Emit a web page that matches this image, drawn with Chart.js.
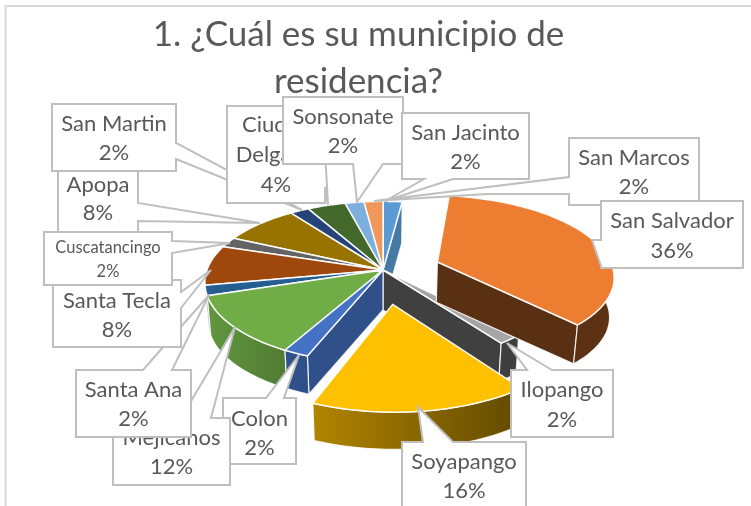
<!DOCTYPE html>
<html><head><meta charset="utf-8">
<style>html,body{margin:0;padding:0;background:#fff}#wrap{width:751px;height:506px;position:relative;overflow:hidden}</style>
<script src="https://cdn.jsdelivr.net/npm/chart.js@4"></script>
</head><body><div id="wrap"><canvas id="c" width="751" height="506"></canvas></div>
<script>
const categories = ['San Jacinto','San Salvador','Ilopango','Soyapango','Colon','Mejicanos','Santa Ana','Santa Tecla','Cuscatancingo','Apopa','San Martin','Ciudad Delgado','Sonsonate','San Marcos'];
const percentages = [2,36,2,16,2,12,2,8,2,8,2,4,2,2];
const sliceColors = ['#5B9BD5','#ED7D31','#A5A5A5','#FFC000','#4472C4','#70AD47','#255E91','#9E480E','#636363','#997300','#264478','#43682B','#7CAFDD','#F1975A'];
const titleLines = ['1. ¿Cuál es su municipio de','residencia?'];
const explodedSlices = {'San Salvador':0.33,'Soyapango':0.41};

// Callout geometry: box [x,y,w,h], pointer polygon (clockwise) attached to one box side, text line centres
const callouts = {
 'Colon':{box:[223,398,73,66],side:'top',wedge:[[266,398],[299,355],[284,398]],ys:[419,448]},
 'Mejicanos':{box:[113,418,117,67],side:'top',wedge:[[181,418],[235,327],[211,418]],ys:[438,467]},
 'Santa Ana':{box:[76,370,115,67],side:'top',wedge:[[143,370],[209,295],[172,370]],ys:[390,419]},
 'Santa Tecla':{box:[53,280,128,67],side:'right',wedge:[[181,292],[211,270],[181,308]],ys:[301,330]},
 'Apopa':{box:[58,165,80,67],side:'right',wedge:[[138,203],[260,223],[138,221]],ys:[185,213],cx:98},
 'Cuscatancingo':{box:[44,232,128,53],side:'right',wedge:[[172,241],[230,243],[172,253]],ys:[248,272],size:16.5},
 'San Martin':{box:[52,104,124,67],side:'right',wedge:[[176,143],[302,210],[176,159]],ys:[124,153]},
 'Ciudad Delgado':{box:[227,106,98,97],side:'right',wedge:[[325,150],[328,205],[325,187]],ys:[125,155,185],lines:['Ciudad','Delgado']},
 'Sonsonate':{box:[283,97,120,67],side:'bottom',wedge:[[383,164],[357,202],[353,164]],ys:[117,146]},
 'San Jacinto':{box:[402,113,127,66],side:'bottom',wedge:[[453,179],[385,201],[424,179]],ys:[133,162]},
 'San Marcos':{box:[569,138,130,67],side:'left',wedge:[[569,194],[487,194],[374,201],[569,177]],ys:[158,187]},
 'San Salvador':{box:[601,201,142,67],side:'left',wedge:[[601,266],[592,240],[601,240]],ys:[221,251]},
 'Ilopango':{box:[511,370,102,67],side:'top',wedge:[[527,370],[507,343],[552,370]],ys:[390,420]},
 'Soyapango':{box:[402,442,124,67],side:'top',wedge:[[423,442],[418,407],[453,442]],ys:[462,491]}
};
const drawOrder = ['Colon','Mejicanos','Santa Ana','Santa Tecla','Apopa','Cuscatancingo','San Martin','Ciudad Delgado','Sonsonate','San Jacinto','San Marcos','San Salvador','Ilopango','Soyapango'];

const TILT=0.45, PERSP=6.5, DEPTH=40, SHRINK=0.98;
const FONT='Lato, Carlito, sans-serif';
const rimShadeTable=[[0,.85],[90,.4],[144,.38],[180,.55],[201,.69],[209,.72],[252,.87],[270,.9],[360,.85]];
function rimShade(deg){deg=((deg%360)+360)%360;for(let i=1;i<rimShadeTable.length;i++){const a=rimShadeTable[i-1],b=rimShadeTable[i];if(deg<=b[0])return a[1]+(b[1]-a[1])*(deg-a[0])/(b[0]-a[0]);}return .8;}
function shade(hex,f){const n=parseInt(hex.slice(1),16);return `rgb(${Math.round((n>>16&255)*f)},${Math.round((n>>8&255)*f)},${Math.round((n&255)*f)})`;}
const faceShade={'Colon':.7,'San Jacinto':.78,'Ilopango':.39,'San Salvador':.38};

const pie3d={id:'pie3d',
 beforeDraw(chart){const c=chart.ctx;c.save();c.fillStyle='#fff';c.fillRect(0,0,751,506);c.strokeStyle='#D9D9D9';c.lineWidth=2;c.beginPath();c.moveTo(751,6);c.lineTo(5.5,6);c.lineTo(5.5,506);c.stroke();c.restore();},
 beforeDatasetDraw(chart,args){
  const c=chart.ctx,meta=args.meta,labels=chart.data.labels;
  const slices=meta.data.map((el,i)=>{
    const a0=el.startAngle+Math.PI/2,a1=el.endAngle+Math.PI/2,m=(a0+a1)/2,e=explodedSlices[labels[i]]||0;
    const R=el.outerRadius,cx=el.x,cy=el.y;
    const P=(th,r)=>{const X=r*Math.sin(th)+e*Math.sin(m),Y=-r*Math.cos(th)-e*Math.cos(m),s=PERSP/(PERSP-Y);return [cx+X*s*R,cy+Y*s*R*TILT];};
    const B=p=>[cx+(p[0]-cx)*SHRINK,cy+(p[1]-cy)*SHRINK+DEPTH];
    return {i,a0,a1,m,e,P,B,color:el.options.backgroundColor,name:labels[i]};
  });
  slices.sort((p,q)=>(p.e?1:0)-(q.e?1:0)||(-Math.cos(p.m))-(-Math.cos(q.m)));
  const poly=pts=>{c.beginPath();pts.forEach((p,k)=>k?c.lineTo(p[0],p[1]):c.moveTo(p[0],p[1]));c.closePath();};
  c.save();c.lineJoin='round';
  for(const s of slices){
    const apex=s.P(s.a0,0),arc=[],N=Math.max(6,Math.ceil((s.a1-s.a0)*40));
    for(let k=0;k<=N;k++)arc.push(s.P(s.a0+(s.a1-s.a0)*k/N,1));
    const f=faceShade[s.name]||.4;
    // radial faces that look at the viewer
    const face=(th,normal)=>{if(-Math.cos(normal)<=0)return;const o=s.P(th,1);poly([apex,o,s.B(o),s.B(apex)]);c.fillStyle=shade(s.color,f);c.fill();c.strokeStyle='rgba(255,255,255,.85)';c.lineWidth=1.2;c.stroke();};
    face(s.a0,s.a0-Math.PI/2);
    face(s.a1,s.a1+Math.PI/2);
    // outer wall, shaded from left to right
    const front=[],frontDeg=[];
    for(let k=0;k<=N;k++){const th=s.a0+(s.a1-s.a0)*k/N;if(-Math.cos(th)>=-0.02){front.push(arc[k]);frontDeg.push(th*180/Math.PI);}}
    if(front.length>1){
      poly(front.concat(front.slice().reverse().map(s.B)));
      const x0=Math.min(...front.map(p=>p[0])),x1=Math.max(...front.map(p=>p[0]))+.01;
      const g=c.createLinearGradient(x0,0,x1,0);
      const d0=frontDeg[0],d1=frontDeg[frontDeg.length-1];
      const leftIsEnd=front[front.length-1][0]<front[0][0];
      g.addColorStop(0,shade(s.color,rimShade(leftIsEnd?d1:d0)));
      g.addColorStop(1,shade(s.color,rimShade(leftIsEnd?d0:d1)));
      c.fillStyle=g;c.fill();c.strokeStyle='rgba(255,255,255,.85)';c.lineWidth=1.2;c.stroke();
    }
    // top face
    poly([apex].concat(arc));c.fillStyle=s.color;c.fill();c.strokeStyle='rgba(255,255,255,.95)';c.lineWidth=1.5;c.stroke();
  }
  c.restore();
  return false;
 },
 afterLayout(chart){const t=chart.titleBlock;if(t){t.left=-17;t.right=734;t.top=11;}},
 afterDatasetsDraw(chart){
  const c=chart.ctx,labels=chart.data.labels,vals=chart.data.datasets[0].data;
  c.save();
  for(const name of drawOrder){
    const k=callouts[name];const [x,y,w,h]=k.box;
    const seq=[[x,y]];
    if(k.side==='top')seq.push(...k.wedge);seq.push([x+w,y]);
    if(k.side==='right')seq.push(...k.wedge);seq.push([x+w,y+h]);
    if(k.side==='bottom')seq.push(...k.wedge);seq.push([x,y+h]);
    if(k.side==='left')seq.push(...k.wedge);
    c.beginPath();seq.forEach((p,i)=>i?c.lineTo(p[0],p[1]):c.moveTo(p[0],p[1]));c.closePath();
    c.fillStyle='#fff';c.fill();c.strokeStyle='#BFBFBF';c.lineWidth=2;c.lineJoin='miter';c.miterLimit=4;c.stroke();
    const idx=labels.indexOf(name);
    const lines=(k.lines||[name]).concat([vals[idx]+'%']);
    c.fillStyle='#595959';c.font=(k.size||22)+'px '+FONT;c.textAlign='center';c.textBaseline='middle';
    lines.forEach((t,i)=>c.fillText(t,k.cx||x+w/2,k.ys[i]));
  }
  c.restore();
 }
};

new Chart(document.getElementById('c'),{
 type:'pie',
 data:{labels:categories,datasets:[{data:percentages,backgroundColor:sliceColors,borderWidth:0}]},
 options:{responsive:false,animation:false,
  layout:{padding:{left:207,right:192,top:0,bottom:60}},
  plugins:{legend:{display:false},tooltip:{enabled:false},
   title:{display:true,text:titleLines,color:'#595959',font:{family:FONT,size:35,weight:'normal',lineHeight:'47px'},padding:0}}
 },
 plugins:[pie3d]
});
</script></body></html>
